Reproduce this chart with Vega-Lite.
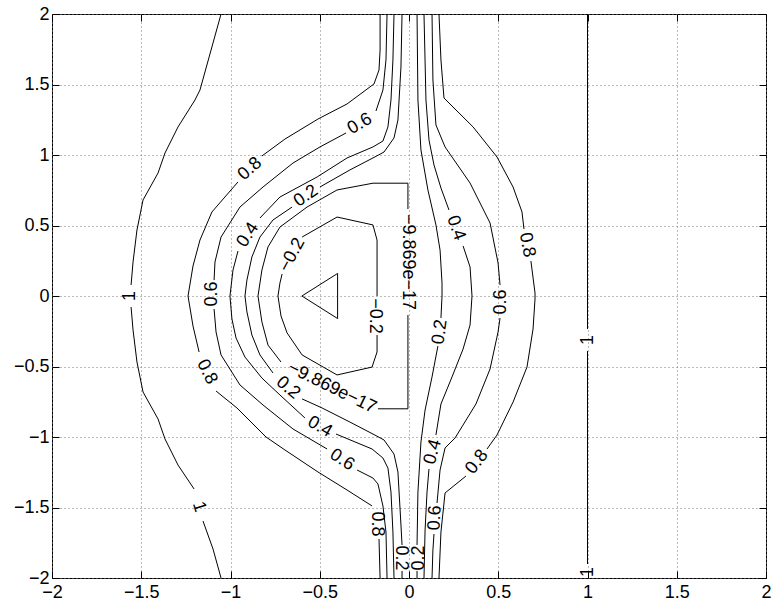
{
"$schema": "https://vega.github.io/schema/vega-lite/v6.json",
"width": 714, "height": 564,
"autosize": {"type": "none"},
"padding": {"left": 52, "top": 14, "right": 8, "bottom": 23},
"background": "white",
"config": {"view": {"stroke": "black", "strokeWidth": 1}, "font": "Liberation Sans"},
"datasets": {
"lines": [
{"c":"L1a","o":1,"x":-1.053,"y":2.0},{"c":"L1a","o":2,"x":-1.098,"y":1.794},{"c":"L1a","o":3,"x":-1.171,"y":1.461},{"c":"L1a","o":4,"x":-1.199,"y":1.39},{"c":"L1a","o":5,"x":-1.294,"y":1.199},{"c":"L1a","o":6,"x":-1.367,"y":1.014},{"c":"L1a","o":7,"x":-1.406,"y":0.872},{"c":"L1a","o":8,"x":-1.49,"y":0.681},{"c":"L1a","o":9,"x":-1.524,"y":0.468},{"c":"L1a","o":10,"x":-1.546,"y":0.241},{"c":"L1a","o":11,"x":-1.557,"y":0.078},
{"c":"L1b","o":1,"x":-1.557,"y":-0.078},{"c":"L1b","o":2,"x":-1.546,"y":-0.241},{"c":"L1b","o":3,"x":-1.524,"y":-0.468},{"c":"L1b","o":4,"x":-1.49,"y":-0.681},{"c":"L1b","o":5,"x":-1.406,"y":-0.872},{"c":"L1b","o":6,"x":-1.367,"y":-1.014},{"c":"L1b","o":7,"x":-1.294,"y":-1.199},{"c":"L1b","o":8,"x":-1.204,"y":-1.369},
{"c":"L1c","o":1,"x":-1.154,"y":-1.596},{"c":"L1c","o":2,"x":-1.098,"y":-1.794},{"c":"L1c","o":3,"x":-1.053,"y":-2.0},
{"c":"R1a","o":1,"x":1.0,"y":2.0},{"c":"R1a","o":2,"x":1.0,"y":-0.234},
{"c":"R1b","o":1,"x":1.0,"y":-0.39},{"c":"R1b","o":2,"x":1.0,"y":-1.901},
{"c":"L08a","o":1,"x":-0.162,"y":2.0},{"c":"L08a","o":2,"x":-0.162,"y":1.745},{"c":"L08a","o":3,"x":-0.168,"y":1.603},{"c":"L08a","o":4,"x":-0.196,"y":1.504},{"c":"L08a","o":5,"x":-0.347,"y":1.362},{"c":"L08a","o":6,"x":-0.51,"y":1.255},{"c":"L08a","o":7,"x":-0.695,"y":1.113},{"c":"L08a","o":8,"x":-0.824,"y":0.993},
{"c":"L08b","o":1,"x":-0.958,"y":0.809},{"c":"L08b","o":2,"x":-1.104,"y":0.596},{"c":"L08b","o":3,"x":-1.171,"y":0.397},{"c":"L08b","o":4,"x":-1.21,"y":0.213},{"c":"L08b","o":5,"x":-1.238,"y":0.0},{"c":"L08b","o":6,"x":-1.21,"y":-0.213},{"c":"L08b","o":7,"x":-1.176,"y":-0.397},
{"c":"L08c","o":1,"x":-1.081,"y":-0.674},{"c":"L08c","o":2,"x":-0.964,"y":-0.794},{"c":"L08c","o":3,"x":-0.801,"y":-1.0},{"c":"L08c","o":4,"x":-0.695,"y":-1.092},{"c":"L08c","o":5,"x":-0.51,"y":-1.248},{"c":"L08c","o":6,"x":-0.347,"y":-1.376},{"c":"L08c","o":7,"x":-0.207,"y":-1.489},
{"c":"L08d","o":1,"x":-0.168,"y":-1.723},{"c":"L08d","o":2,"x":-0.162,"y":-2.0},
{"c":"L06a","o":1,"x":-0.123,"y":2.0},{"c":"L06a","o":2,"x":-0.129,"y":1.674},{"c":"L06a","o":3,"x":-0.146,"y":1.461},{"c":"L06a","o":4,"x":-0.185,"y":1.312},
{"c":"L06b","o":1,"x":-0.353,"y":1.156},{"c":"L06b","o":2,"x":-0.499,"y":1.057},{"c":"L06b","o":3,"x":-0.65,"y":0.943},{"c":"L06b","o":4,"x":-0.818,"y":0.773},{"c":"L06b","o":5,"x":-0.947,"y":0.631},{"c":"L06b","o":6,"x":-1.053,"y":0.418},{"c":"L06b","o":7,"x":-1.087,"y":0.241},{"c":"L06b","o":8,"x":-1.092,"y":0.113},
{"c":"L06c","o":1,"x":-1.092,"y":-0.092},{"c":"L06c","o":2,"x":-1.081,"y":-0.255},{"c":"L06c","o":3,"x":-1.053,"y":-0.418},{"c":"L06c","o":4,"x":-0.947,"y":-0.631},{"c":"L06c","o":5,"x":-0.818,"y":-0.773},{"c":"L06c","o":6,"x":-0.65,"y":-0.943},{"c":"L06c","o":7,"x":-0.459,"y":-1.085},
{"c":"L06d","o":1,"x":-0.291,"y":-1.234},{"c":"L06d","o":2,"x":-0.202,"y":-1.291},{"c":"L06d","o":3,"x":-0.174,"y":-1.333},{"c":"L06d","o":4,"x":-0.146,"y":-1.489},{"c":"L06d","o":5,"x":-0.129,"y":-1.674},{"c":"L06d","o":6,"x":-0.123,"y":-2.0},
{"c":"L04a","o":1,"x":-0.084,"y":2.0},{"c":"L04a","o":2,"x":-0.09,"y":1.674},{"c":"L04a","o":3,"x":-0.101,"y":1.39},{"c":"L04a","o":4,"x":-0.118,"y":1.199},{"c":"L04a","o":5,"x":-0.146,"y":1.099},{"c":"L04a","o":6,"x":-0.202,"y":1.057},{"c":"L04a","o":7,"x":-0.347,"y":0.979},{"c":"L04a","o":8,"x":-0.515,"y":0.844},{"c":"L04a","o":9,"x":-0.723,"y":0.702},{"c":"L04a","o":10,"x":-0.835,"y":0.553},
{"c":"L04b","o":1,"x":-0.958,"y":0.319},{"c":"L04b","o":2,"x":-0.986,"y":0.184},{"c":"L04b","o":3,"x":-1.003,"y":0.0},{"c":"L04b","o":4,"x":-0.992,"y":-0.163},{"c":"L04b","o":5,"x":-0.969,"y":-0.298},{"c":"L04b","o":6,"x":-0.919,"y":-0.433},{"c":"L04b","o":7,"x":-0.824,"y":-0.582},{"c":"L04b","o":8,"x":-0.723,"y":-0.702},{"c":"L04b","o":9,"x":-0.583,"y":-0.865},
{"c":"L04c","o":1,"x":-0.409,"y":-0.979},{"c":"L04c","o":2,"x":-0.207,"y":-1.085},{"c":"L04c","o":3,"x":-0.146,"y":-1.149},{"c":"L04c","o":4,"x":-0.118,"y":-1.22},{"c":"L04c","o":5,"x":-0.101,"y":-1.39},{"c":"L04c","o":6,"x":-0.09,"y":-1.674},{"c":"L04c","o":7,"x":-0.084,"y":-2.0},
{"c":"L02a","o":1,"x":-0.039,"y":2.0},{"c":"L02a","o":2,"x":-0.045,"y":1.624},{"c":"L02a","o":3,"x":-0.062,"y":1.248},{"c":"L02a","o":4,"x":-0.084,"y":1.121},{"c":"L02a","o":5,"x":-0.14,"y":1.021},{"c":"L02a","o":6,"x":-0.202,"y":0.979},{"c":"L02a","o":7,"x":-0.331,"y":0.894},{"c":"L02a","o":8,"x":-0.499,"y":0.773},
{"c":"L02b","o":1,"x":-0.655,"y":0.631},{"c":"L02b","o":2,"x":-0.762,"y":0.539},{"c":"L02b","o":3,"x":-0.835,"y":0.418},{"c":"L02b","o":4,"x":-0.88,"y":0.277},{"c":"L02b","o":5,"x":-0.908,"y":0.113},{"c":"L02b","o":6,"x":-0.919,"y":0.0},{"c":"L02b","o":7,"x":-0.908,"y":-0.113},{"c":"L02b","o":8,"x":-0.88,"y":-0.277},{"c":"L02b","o":9,"x":-0.835,"y":-0.418},{"c":"L02b","o":10,"x":-0.762,"y":-0.546},
{"c":"L02c","o":1,"x":-0.599,"y":-0.73},{"c":"L02c","o":2,"x":-0.487,"y":-0.794},{"c":"L02c","o":3,"x":-0.331,"y":-0.894},{"c":"L02c","o":4,"x":-0.202,"y":-0.979},{"c":"L02c","o":5,"x":-0.14,"y":-1.021},{"c":"L02c","o":6,"x":-0.084,"y":-1.121},{"c":"L02c","o":7,"x":-0.062,"y":-1.248},{"c":"L02c","o":8,"x":-0.045,"y":-1.624},{"c":"L02c","o":9,"x":-0.039,"y":-1.766},
{"c":"L02d","o":1,"x":-0.039,"y":-1.95},{"c":"L02d","o":2,"x":-0.039,"y":-2.0},
{"c":"L0a","o":1,"x":-0.006,"y":0.617},{"c":"L0a","o":2,"x":-0.006,"y":0.8},{"c":"L0a","o":3,"x":-0.202,"y":0.8},{"c":"L0a","o":4,"x":-0.403,"y":0.752},{"c":"L0a","o":5,"x":-0.571,"y":0.631},{"c":"L0a","o":6,"x":-0.723,"y":0.489},{"c":"L0a","o":7,"x":-0.79,"y":0.348},{"c":"L0a","o":8,"x":-0.824,"y":0.184},{"c":"L0a","o":9,"x":-0.846,"y":0.0},{"c":"L0a","o":10,"x":-0.824,"y":-0.184},{"c":"L0a","o":11,"x":-0.79,"y":-0.348},{"c":"L0a","o":12,"x":-0.717,"y":-0.468},
{"c":"L0b","o":1,"x":-0.174,"y":-0.8},{"c":"L0b","o":2,"x":-0.006,"y":-0.8},{"c":"L0b","o":3,"x":-0.006,"y":-0.135},
{"c":"Lm02a","o":1,"x":-0.599,"y":0.418},{"c":"Lm02a","o":2,"x":-0.403,"y":0.56},{"c":"Lm02a","o":3,"x":-0.202,"y":0.504},{"c":"Lm02a","o":4,"x":-0.179,"y":0.397},{"c":"Lm02a","o":5,"x":-0.179,"y":0.0},
{"c":"Lm02b","o":1,"x":-0.179,"y":-0.277},{"c":"Lm02b","o":2,"x":-0.179,"y":-0.397},{"c":"Lm02b","o":3,"x":-0.207,"y":-0.504},{"c":"Lm02b","o":4,"x":-0.403,"y":-0.56},{"c":"Lm02b","o":5,"x":-0.599,"y":-0.418},{"c":"Lm02b","o":6,"x":-0.683,"y":-0.262},{"c":"Lm02b","o":7,"x":-0.717,"y":-0.142},{"c":"Lm02b","o":8,"x":-0.734,"y":0.0},{"c":"Lm02b","o":9,"x":-0.723,"y":0.092},{"c":"Lm02b","o":10,"x":-0.711,"y":0.156},
{"c":"Lm04","o":1,"x":-0.4,"y":0.16},{"c":"Lm04","o":2,"x":-0.6,"y":0.0},{"c":"Lm04","o":3,"x":-0.4,"y":-0.16},{"c":"Lm04","o":4,"x":-0.4,"y":0.16},
{"c":"R02a","o":1,"x":0.045,"y":2.0},{"c":"R02a","o":2,"x":0.05,"y":1.39},{"c":"R02a","o":3,"x":0.067,"y":1.035},{"c":"R02a","o":4,"x":0.106,"y":0.752},{"c":"R02a","o":5,"x":0.151,"y":0.504},{"c":"R02a","o":6,"x":0.174,"y":0.326},{"c":"R02a","o":7,"x":0.185,"y":0.092},{"c":"R02a","o":8,"x":0.185,"y":0.0},{"c":"R02a","o":9,"x":0.179,"y":-0.156},
{"c":"R02b","o":1,"x":0.162,"y":-0.355},{"c":"R02b","o":2,"x":0.129,"y":-0.574},{"c":"R02b","o":3,"x":0.09,"y":-0.809},{"c":"R02b","o":4,"x":0.067,"y":-1.035},{"c":"R02b","o":5,"x":0.05,"y":-1.39},{"c":"R02b","o":6,"x":0.045,"y":-1.766},
{"c":"R02c","o":1,"x":0.045,"y":-1.95},{"c":"R02c","o":2,"x":0.045,"y":-2.0},
{"c":"R04a","o":1,"x":0.084,"y":2.0},{"c":"R04a","o":2,"x":0.095,"y":1.39},{"c":"R04a","o":3,"x":0.112,"y":1.106},{"c":"R04a","o":4,"x":0.14,"y":0.929},{"c":"R04a","o":5,"x":0.179,"y":0.766},{"c":"R04a","o":6,"x":0.224,"y":0.61},
{"c":"R04b","o":1,"x":0.303,"y":0.355},{"c":"R04b","o":2,"x":0.342,"y":0.206},{"c":"R04b","o":3,"x":0.353,"y":0.0},{"c":"R04b","o":4,"x":0.342,"y":-0.206},{"c":"R04b","o":5,"x":0.303,"y":-0.376},{"c":"R04b","o":6,"x":0.241,"y":-0.574},{"c":"R04b","o":7,"x":0.179,"y":-0.766},{"c":"R04b","o":8,"x":0.151,"y":-0.986},
{"c":"R04c","o":1,"x":0.112,"y":-1.227},{"c":"R04c","o":2,"x":0.101,"y":-1.39},{"c":"R04c","o":3,"x":0.09,"y":-1.66},{"c":"R04c","o":4,"x":0.084,"y":-2.0},
{"c":"R06a","o":1,"x":0.129,"y":2.0},{"c":"R06a","o":2,"x":0.134,"y":1.532},{"c":"R06a","o":3,"x":0.151,"y":1.213},{"c":"R06a","o":4,"x":0.202,"y":1.057},{"c":"R06a","o":5,"x":0.342,"y":0.801},{"c":"R06a","o":6,"x":0.454,"y":0.518},{"c":"R06a","o":7,"x":0.499,"y":0.234},{"c":"R06a","o":8,"x":0.51,"y":0.078},
{"c":"R06b","o":1,"x":0.51,"y":-0.156},{"c":"R06b","o":2,"x":0.499,"y":-0.255},{"c":"R06b","o":3,"x":0.454,"y":-0.518},{"c":"R06b","o":4,"x":0.375,"y":-0.766},{"c":"R06b","o":5,"x":0.258,"y":-1.007},{"c":"R06b","o":6,"x":0.202,"y":-1.078},{"c":"R06b","o":7,"x":0.174,"y":-1.234},{"c":"R06b","o":8,"x":0.157,"y":-1.468},
{"c":"R06c","o":1,"x":0.14,"y":-1.688},{"c":"R06c","o":2,"x":0.134,"y":-1.801},{"c":"R06c","o":3,"x":0.129,"y":-2.0},
{"c":"R08a","o":1,"x":0.168,"y":2.0},{"c":"R08a","o":2,"x":0.179,"y":1.674},{"c":"R08a","o":3,"x":0.196,"y":1.404},{"c":"R08a","o":4,"x":0.359,"y":1.199},{"c":"R08a","o":5,"x":0.493,"y":0.986},{"c":"R08a","o":6,"x":0.583,"y":0.773},{"c":"R08a","o":7,"x":0.633,"y":0.596},{"c":"R08a","o":8,"x":0.644,"y":0.475},
{"c":"R08b","o":1,"x":0.683,"y":0.248},{"c":"R08b","o":2,"x":0.706,"y":0.021},{"c":"R08b","o":3,"x":0.706,"y":-0.021},{"c":"R08b","o":4,"x":0.695,"y":-0.234},{"c":"R08b","o":5,"x":0.661,"y":-0.504},{"c":"R08b","o":6,"x":0.583,"y":-0.752},{"c":"R08b","o":7,"x":0.493,"y":-0.986},{"c":"R08b","o":8,"x":0.437,"y":-1.085},
{"c":"R08c","o":1,"x":0.319,"y":-1.277},{"c":"R08c","o":2,"x":0.202,"y":-1.397},{"c":"R08c","o":3,"x":0.179,"y":-1.674},{"c":"R08c","o":4,"x":0.168,"y":-2.0}
],
"labels": [
{"t":"1","x":-1.563,"y":0.0,"a":-90},
{"t":"1","x":-1.176,"y":-1.496,"a":73},
{"t":"1","x":1.0,"y":-0.312,"a":-90},
{"t":"1","x":1.0,"y":-1.957,"a":-90},
{"t":"0.8","x":-0.891,"y":0.901,"a":-42},
{"t":"0.6","x":-0.275,"y":1.22,"a":-30},
{"t":"0.2","x":-0.577,"y":0.709,"a":-34},
{"t":"0.4","x":-0.902,"y":0.433,"a":-57},
{"t":"−0.2","x":-0.655,"y":0.291,"a":-62},
{"t":"0.6","x":-1.104,"y":0.014,"a":-90},
{"t":"−9.869e−17","x":-0.006,"y":0.241,"a":90},
{"t":"−0.2","x":-0.19,"y":-0.142,"a":90},
{"t":"0.4","x":0.263,"y":0.482,"a":70},
{"t":"0.8","x":0.661,"y":0.362,"a":79},
{"t":"0.6","x":0.515,"y":-0.043,"a":-90},
{"t":"0.2","x":0.174,"y":-0.255,"a":-82},
{"t":"0.8","x":-1.132,"y":-0.539,"a":63},
{"t":"−9.869e−17","x":-0.431,"y":-0.652,"a":26},
{"t":"0.2","x":-0.678,"y":-0.652,"a":40},
{"t":"0.4","x":-0.499,"y":-0.929,"a":30},
{"t":"0.6","x":-0.375,"y":-1.163,"a":33},
{"t":"0.8","x":-0.179,"y":-1.617,"a":90},
{"t":"0.2","x":-0.045,"y":-1.858,"a":90},
{"t":"0.2","x":0.056,"y":-1.858,"a":-90},
{"t":"0.4","x":0.134,"y":-1.106,"a":-75},
{"t":"0.6","x":0.146,"y":-1.574,"a":-88},
{"t":"0.8","x":0.381,"y":-1.177,"a":-52}
]
},
"resolve": {"axis": {"x": "independent", "y": "independent"}},
"layer": [
{
"data": {"name": "lines"},
"mark": {"type": "line", "color": "black", "strokeWidth": 1},
"encoding": {
"x": {"field": "x", "type": "quantitative", "scale": {"domain": [-2, 2], "nice": false, "zero": false},
"axis": {"orient": "bottom", "title": null, "format": "~g", "values": [-2, -1.5, -1, -0.5, 0, 0.5, 1, 1.5, 2], "grid": true, "gridColor": "#777", "gridDash": [1, 3], "gridWidth": 1, "domain": false, "tickSize": -7, "tickColor": "black", "labelPadding": 12, "labelFontSize": 18, "labelFont": "Liberation Sans", "labelColor": "black", "labelFlush": false}},
"y": {"field": "y", "type": "quantitative", "scale": {"domain": [-2, 2], "nice": false, "zero": false},
"axis": {"orient": "left", "title": null, "format": "~g", "values": [-2, -1.5, -1, -0.5, 0, 0.5, 1, 1.5, 2], "grid": true, "gridColor": "#777", "gridDash": [1, 3], "gridWidth": 1, "domain": false, "tickSize": -7, "tickColor": "black", "labelPadding": 10, "labelFontSize": 18, "labelFont": "Liberation Sans", "labelColor": "black", "labelFlush": false}},
"detail": {"field": "c"},
"order": {"field": "o"}
}
},
{
"data": {"name": "labels"},
"mark": {"type": "text", "fontSize": 18, "font": "Liberation Sans", "color": "black", "align": "center", "baseline": "middle"},
"encoding": {
"x": {"field": "x", "type": "quantitative", "axis": {"orient": "top", "title": null, "labels": false, "grid": false, "domain": false, "values": [-2, -1.5, -1, -0.5, 0, 0.5, 1, 1.5, 2], "tickSize": -7, "tickColor": "black"}},
"y": {"field": "y", "type": "quantitative", "axis": {"orient": "right", "title": null, "labels": false, "grid": false, "domain": false, "values": [-2, -1.5, -1, -0.5, 0, 0.5, 1, 1.5, 2], "tickSize": -7, "tickColor": "black"}},
"text": {"field": "t"},
"angle": {"field": "a", "type": "quantitative", "scale": null}
}
}
]
}
